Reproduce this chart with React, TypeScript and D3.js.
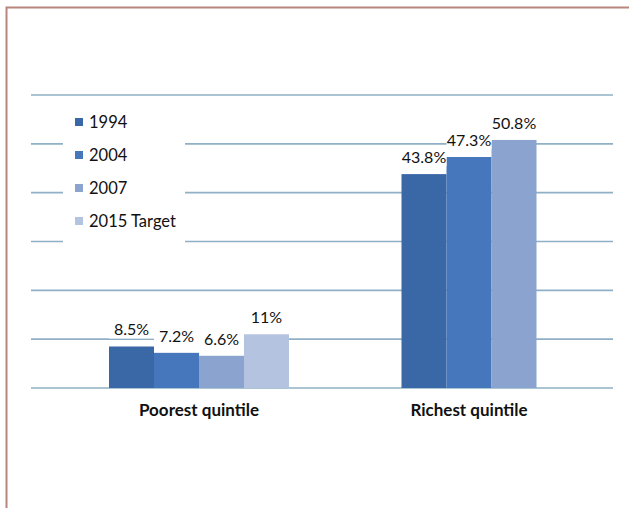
import { useEffect, useRef } from "react";
import * as d3 from "d3";

const CATEGORIES = ["Poorest quintile", "Richest quintile"];
const SERIES = ["1994", "2004", "2007", "2015 Target"];
// null = no bar for that category
const VALUES_1994 = [8.5, 43.8];
const VALUES_2004 = [7.2, 47.3];
const VALUES_2007 = [6.6, 50.8];
const VALUES_2015 = [11, null];
const LABELS_1994 = ["8.5%", "43.8%"];
const LABELS_2004 = ["7.2%", "47.3%"];
const LABELS_2007 = ["6.6%", "50.8%"];
const LABELS_2015 = ["11%", ""];
const Y_TICKS = [0, 10, 20, 30, 40, 50, 60];

const COLORS = ["#3a67a6", "#4677bd", "#8ba3cf", "#b4c3e0"];
const W = 629;
const H = 508;
const FONT = "Lato, 'Open Sans', sans-serif";

interface Bar {
    cat: string;
    series: string;
    value: number;
    label: string;
    color: string;
}

export default function App() {
    const svgRef = useRef<SVGSVGElement>(null);

    useEffect(() => {
        const valueSets = [VALUES_1994, VALUES_2004, VALUES_2007, VALUES_2015];
        const labelSets = [LABELS_1994, LABELS_2004, LABELS_2007, LABELS_2015];

        const bars: Bar[] = [];
        CATEGORIES.forEach((cat, ci) => {
            SERIES.forEach((s, si) => {
                const v = valueSets[si][ci];
                if (v == null) return;
                bars.push({ cat, series: s, value: v, label: labelSets[si][ci], color: COLORS[si] });
            });
        });

        const y = d3.scaleLinear().domain([0, 60]).range([388, 95]);
        const x0 = d3.scaleBand<string>().domain(CATEGORIES).range([64, 604]);
        const barW = 45;

        // each group only spans the series it has, centred on its band
        const inner = new Map<string, d3.ScaleBand<string>>();
        CATEGORIES.forEach((cat) => {
            const present = bars.filter((b) => b.cat === cat).map((b) => b.series);
            const c = (x0(cat) ?? 0) + x0.bandwidth() / 2;
            inner.set(cat, d3.scaleBand<string>().domain(present).range([c - (present.length * barW) / 2, c + (present.length * barW) / 2]));
        });
        const bx = (b: Bar) => inner.get(b.cat)!(b.series) ?? 0;

        const svg = d3.select(svgRef.current);
        svg.selectAll("*").remove();

        svg.append("rect").attr("width", W).attr("height", H).attr("fill", "#fff");

        // frame (only left and top edges visible in the crop)
        svg.append("path").attr("d", `M6.5,${H} V7.5 H${W}`).attr("fill", "none").attr("stroke", "#b8867c").attr("stroke-width", 2);

        svg.append("g")
            .selectAll("line")
            .data(Y_TICKS)
            .join("line")
            .attr("x1", 31)
            .attr("x2", 613)
            .attr("y1", (d) => y(d))
            .attr("y2", (d) => y(d))
            .attr("stroke", "#8fb0c6")
            .attr("stroke-width", 1.6);

        svg.append("g")
            .selectAll("rect")
            .data(bars)
            .join("rect")
            .attr("x", bx)
            .attr("y", (d) => y(d.value))
            .attr("width", barW)
            .attr("height", (d) => y(0) - y(d.value))
            .attr("fill", (d) => d.color);

        // label boxes are white, like Excel's filled data labels
        const labels = svg.append("g").selectAll("g").data(bars).join("g");
        labels
            .append("rect")
            .attr("x", (d) => bx(d))
            .attr("y", (d) => y(d.value) - 26)
            .attr("width", barW)
            .attr("height", 18)
            .attr("fill", "#fff");
        labels
            .append("text")
            .attr("x", (d) => bx(d) + barW / 2)
            .attr("y", (d) => y(d.value) - 11)
            .attr("text-anchor", "middle")
            .attr("font-family", FONT)
            .attr("font-size", 16)
            .attr("fill", "#111")
            .text((d) => d.label);

        svg.append("g")
            .selectAll("text")
            .data(CATEGORIES)
            .join("text")
            .attr("x", (d) => (x0(d) ?? 0) + x0.bandwidth() / 2)
            .attr("y", 416)
            .attr("text-anchor", "middle")
            .attr("font-family", FONT)
            .attr("font-weight", "bold")
            .attr("font-size", 17)
            .attr("fill", "#111")
            .text((d) => d);

        const legend = svg.append("g");
        legend.append("rect").attr("x", 63).attr("y", 101).attr("width", 122).attr("height", 144).attr("fill", "#fff");
        const rows = legend
            .selectAll("g")
            .data(SERIES)
            .join("g")
            .attr("transform", (_, i) => `translate(75,${128 + i * 33})`);
        rows.append("rect").attr("x", 0).attr("y", -10).attr("width", 8).attr("height", 8).attr("fill", (_, i) => COLORS[i]);
        rows.append("text")
            .attr("x", 14)
            .attr("y", 0)
            .attr("font-family", FONT)
            .attr("font-size", 16.5)
            .attr("fill", "#111")
            .text((d) => d);
    }, []);

    return <svg ref={svgRef} width={W} height={H} style={{ position: "absolute", left: 0, top: 0 }} />;
}
